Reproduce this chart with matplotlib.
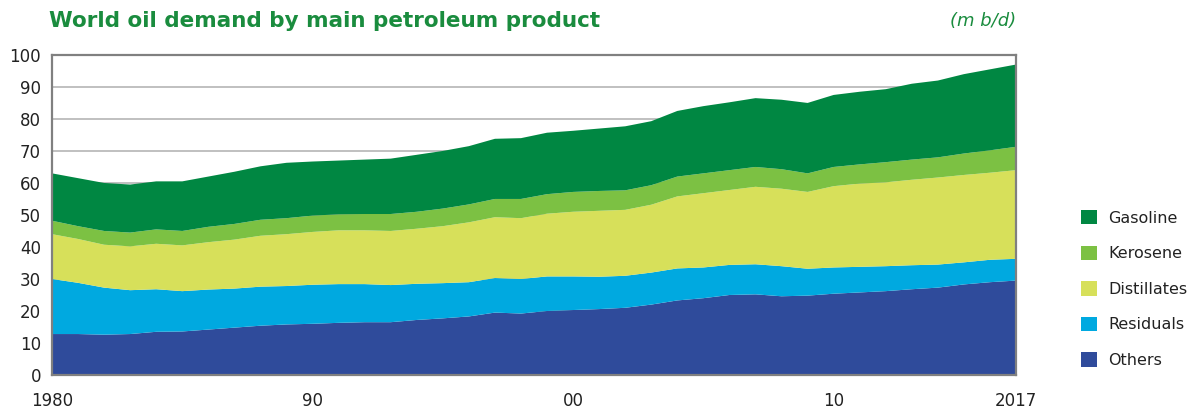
import matplotlib.pyplot as plt
import numpy as np

# World oil demand by main petroleum product, m b/d
years = list(range(1980, 2018))

others = [12.8, 12.8, 12.6, 12.8, 13.5, 13.6, 14.2, 14.8, 15.4, 15.8,
          16.0, 16.3, 16.5, 16.5, 17.2, 17.7, 18.3, 19.5, 19.2, 20.0,
          20.3, 20.6, 21.0, 22.0, 23.3, 24.0, 25.0, 25.2, 24.6, 24.8,
          25.4, 25.8, 26.2, 26.8, 27.3, 28.3, 29.0, 29.5]
residuals = [17.2, 16.0, 14.7, 13.7, 13.3, 12.6, 12.5, 12.2, 12.2, 12.0,
             12.2, 12.1, 11.9, 11.6, 11.3, 11.0, 10.7, 10.8, 10.8, 10.8,
             10.5, 10.1, 10.0, 10.0, 10.0, 9.6, 9.4, 9.4, 9.4, 8.4,
             8.2, 8.0, 7.8, 7.5, 7.2, 6.9, 7.0, 6.8]
distillates = [14.0, 13.7, 13.4, 13.7, 14.2, 14.3, 14.8, 15.3, 15.9, 16.2,
               16.5, 16.8, 16.8, 16.9, 17.2, 17.8, 18.7, 19.0, 19.0, 19.6,
               20.2, 20.6, 20.6, 21.2, 22.5, 23.2, 23.4, 24.2, 24.2, 24.0,
               25.4, 26.0, 26.2, 26.7, 27.2, 27.3, 27.2, 27.7]
kerosene = [4.2, 4.0, 4.3, 4.3, 4.5, 4.5, 4.8, 4.9, 5.0, 5.0,
            5.1, 5.0, 5.1, 5.3, 5.3, 5.5, 5.6, 5.7, 6.0, 6.1,
            6.2, 6.2, 6.1, 6.1, 6.2, 6.2, 6.2, 6.2, 6.1, 5.8,
            6.0, 6.0, 6.3, 6.3, 6.3, 6.7, 7.0, 7.3]
gasoline = [14.8, 15.0, 15.0, 15.0, 15.0, 15.5, 15.7, 16.3, 16.7, 17.3,
            16.9, 16.8, 17.0, 17.3, 17.8, 18.0, 18.2, 18.8, 19.0, 19.2,
            19.1, 19.5, 20.0, 20.0, 20.5, 21.0, 21.2, 21.5, 21.7, 22.0,
            22.5, 22.7, 22.8, 23.7, 24.0, 24.8, 25.3, 25.7]

labels = ['Others', 'Residuals', 'Distillates', 'Kerosene', 'Gasoline']
colors = ['#2f4b9b', '#00a9e0', '#d7e05a', '#7cc143', '#008742']

xtick_years = [1980, 1990, 2000, 2010, 2017]
xtick_labels = ['1980', '90', '00', '10', '2017']

fig = plt.figure(figsize=(12.01, 4.13), dpi=100)
ax = fig.add_axes([0.0433, 0.092, 0.8027, 0.775])

ax.set_axisbelow(True)
ax.grid(axis='y', color='#b5b5b5', linewidth=1.2)
polys = ax.stackplot(years, others, residuals, distillates, kerosene, gasoline,
                     colors=colors, labels=labels, linewidth=0)

ax.set_xlim(1980, 2017)
ax.set_ylim(0, 100)
ax.set_yticks(np.arange(0, 101, 10))
ax.set_xticks(xtick_years)
ax.set_xticklabels(xtick_labels)
ax.tick_params(length=0, labelsize=12, colors='#222222')
ax.tick_params(axis='y', pad=8)
ax.tick_params(axis='x', pad=12)
for sp in ax.spines.values():
    sp.set_color('#808080')
    sp.set_linewidth(1.6)

# legend, reversed so gasoline is on top
handles, labs = ax.get_legend_handles_labels()
fig.legend(handles[::-1], labs[::-1], loc='center left',
           bbox_to_anchor=(0.888, 0.30), frameon=False, fontsize=11.5,
           handlelength=1.0, handleheight=1.0, labelspacing=1.25,
           handletextpad=0.7, labelcolor='#222222')

fig.text(0.041, 0.948, 'World oil demand by main petroleum product',
         fontsize=15.5, fontweight='bold', color='#1a8c3e', va='center')
fig.text(0.846, 0.948, '(m b/d)', fontsize=13, style='italic',
         color='#1a8c3e', va='center', ha='right')

fig.savefig('out.png', dpi=100)
